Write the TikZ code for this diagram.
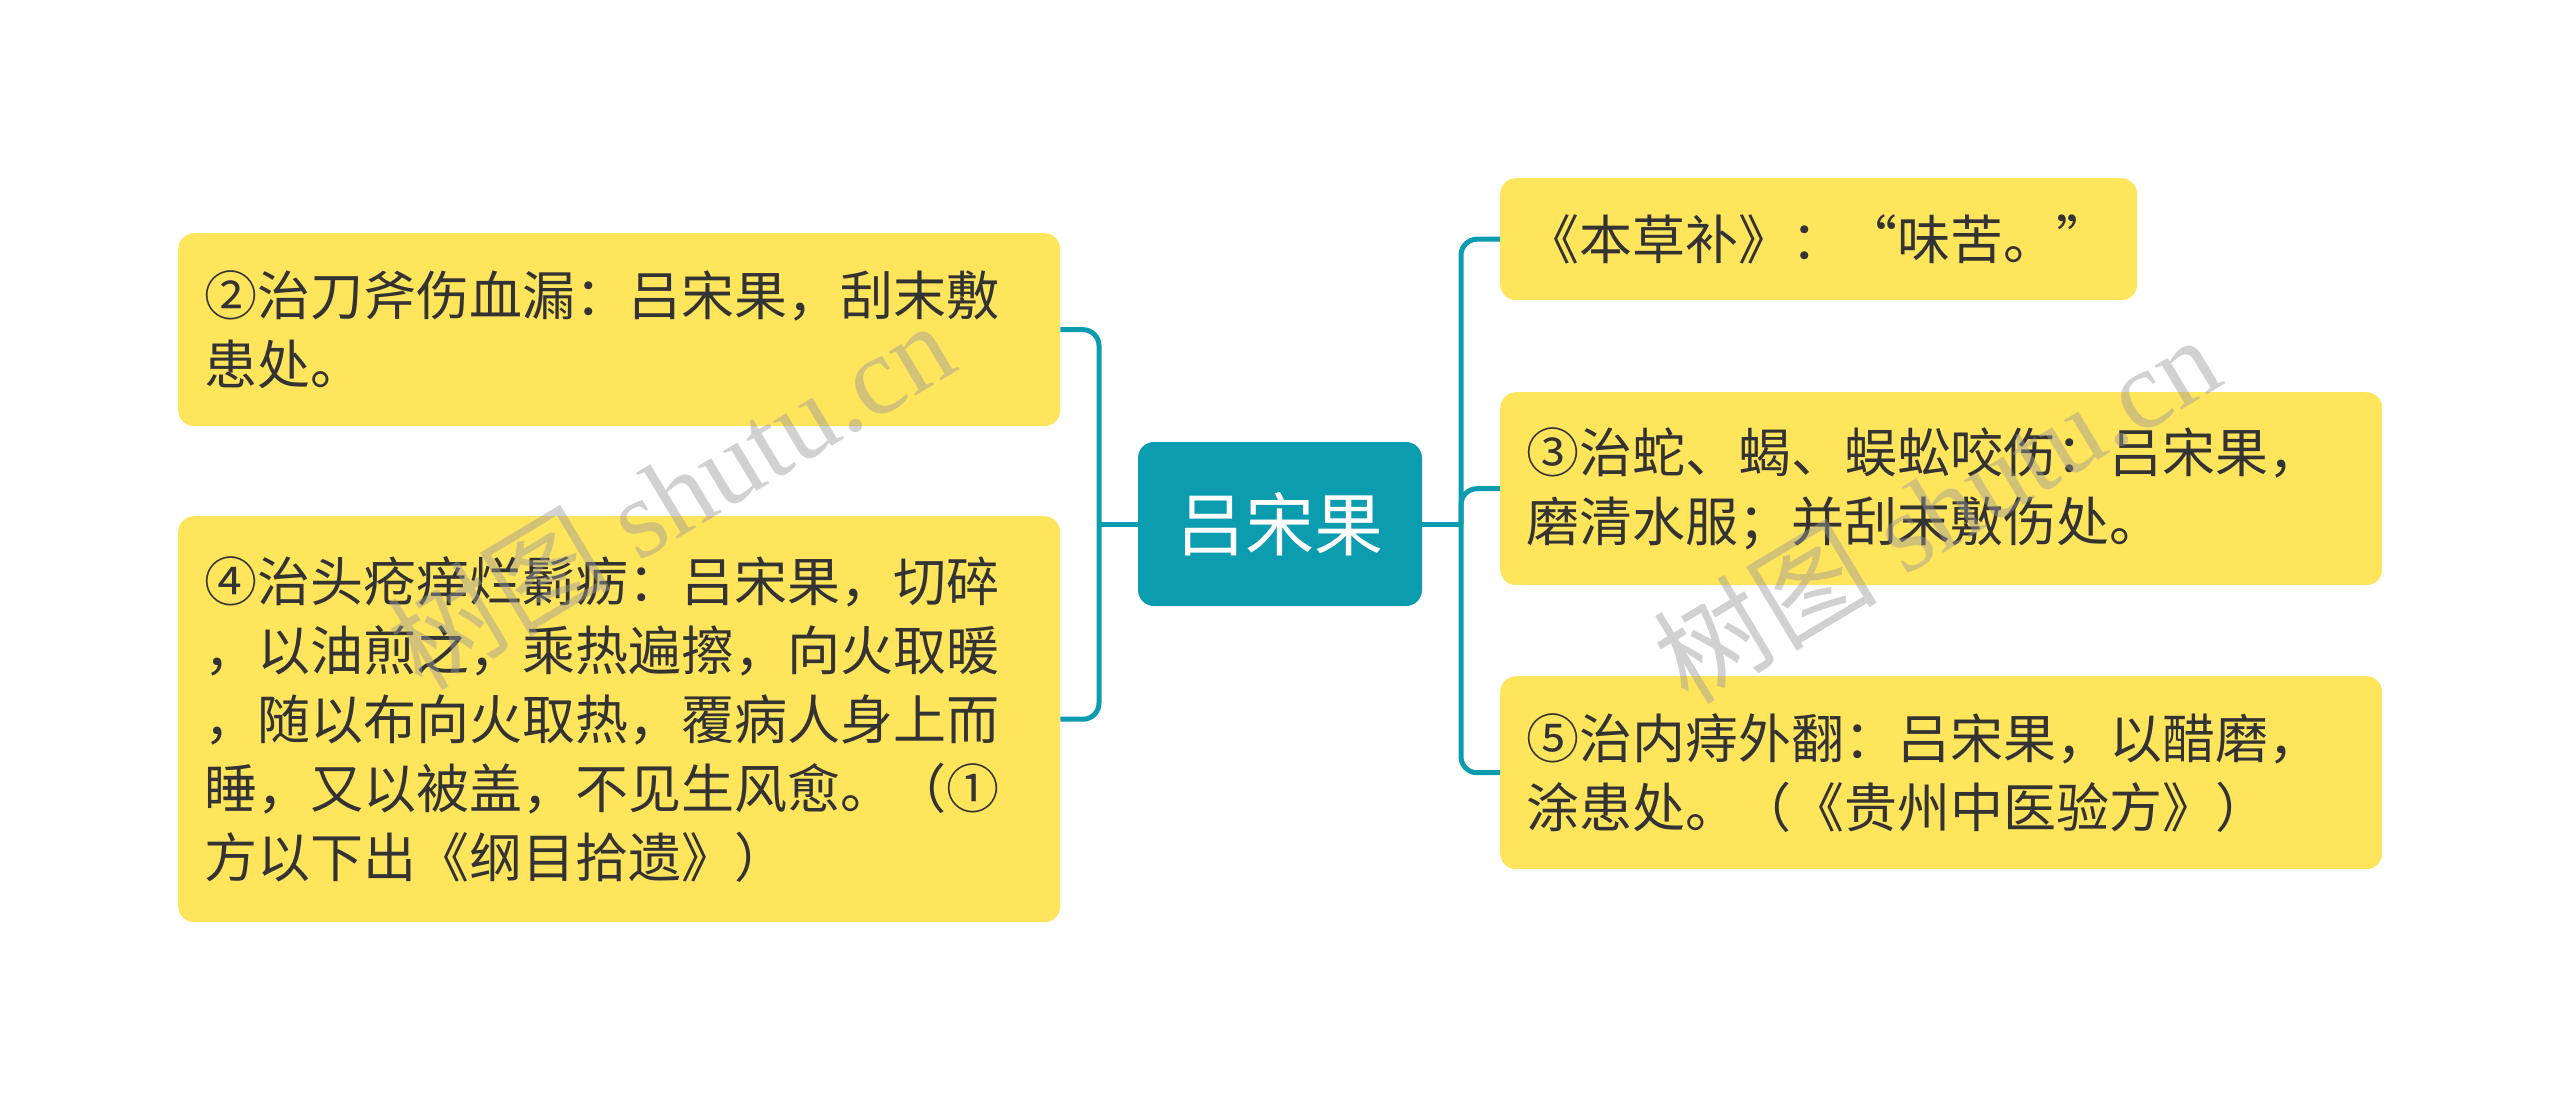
\documentclass[tikz,border=0pt]{standalone}
\usepackage{fontspec}
\newfontfamily\cjk{Noto Sans CJK SC}
\newfontfamily\wmserif{Liberation Serif}
\usetikzlibrary{positioning}
\definecolor{mapteal}{RGB}{12,156,175}
\definecolor{mapyellow}{RGB}{255,229,92}
\definecolor{maptext}{RGB}{51,51,51}
\tikzset{
	leaf/.style={fill=mapyellow, rounded corners=16pt, inner xsep=26pt, inner ysep=0pt,
		align=left, text=maptext, anchor=north west, font=\cjk\fontsize{53}{69}\selectfont},
	rootbox/.style={fill=mapteal, rounded corners=16pt, text=white,
		minimum width=284pt, minimum height=164pt, font=\cjk\fontsize{69}{80}\selectfont},
	link/.style={draw=mapteal, line width=5pt},
	elbow/.style={link, rounded corners=16pt},
	wmark/.style={text=black!40, opacity=0.45, rotate=31, font=\wmserif\fontsize{112}{120}\selectfont}
}

\begin{document}
\begin{tikzpicture}[x=1pt, y=-1pt]
		%%%%% START %%%%%
		
		\useasboundingbox (0, 0) rectangle (2560, 1102);
		
		\node[rootbox] (root) at (1280, 524) {吕宋果};
		
		\node[leaf, text width=830pt, minimum height=193pt] (l1) at (178, 233)
			{②治刀斧伤血漏：吕宋果，刮末敷\\患处。};
		\node[leaf, text width=830pt, minimum height=406pt] (l2) at (178, 516)
			{④治头疮痒烂鬎疬：吕宋果，切碎\\，以油煎之，乘热遍擦，向火取暖\\，随以布向火取热，覆病人身上而\\睡，又以被盖，不见生风愈。（①\\方以下出《纲目拾遗》）};
		
		\node[leaf, text width=585pt, minimum height=122pt] (r1) at (1500, 178)
			{《本草补》：“味苦。”};
		\node[leaf, text width=830pt, minimum height=193pt] (r2) at (1500, 392)
			{③治蛇、蝎、蜈蚣咬伤：吕宋果，\\磨清水服；并刮末敷伤处。};
		\node[leaf, text width=830pt, minimum height=193pt] (r3) at (1500, 676)
			{⑤治内痔外翻：吕宋果，以醋磨，\\涂患处。（《贵州中医验方》）};
		
		\coordinate (lbus) at (1099, 524);
		\coordinate (rbus) at (1461, 524);
		
		\draw[link] (root.west) -- (lbus);
		\draw[elbow] (lbus) |- (l1.east);
		\draw[elbow] (lbus) |- (l2.east);
		
		\draw[link] (root.east) -- (rbus);
		\draw[elbow] (rbus) |- (r1.west);
		\draw[elbow] (rbus) |- (r2.west);
		\draw[elbow] (rbus) |- (r3.west);
		
		\node[wmark] (wm1) at (670, 494) {{\cjk 树图} shutu.cn};
		\node[wmark] (wm2) at (1936, 508) {{\cjk 树图} shutu.cn};
		
		%%%%% END %%%%%
	\end{tikzpicture}
\end{document}
